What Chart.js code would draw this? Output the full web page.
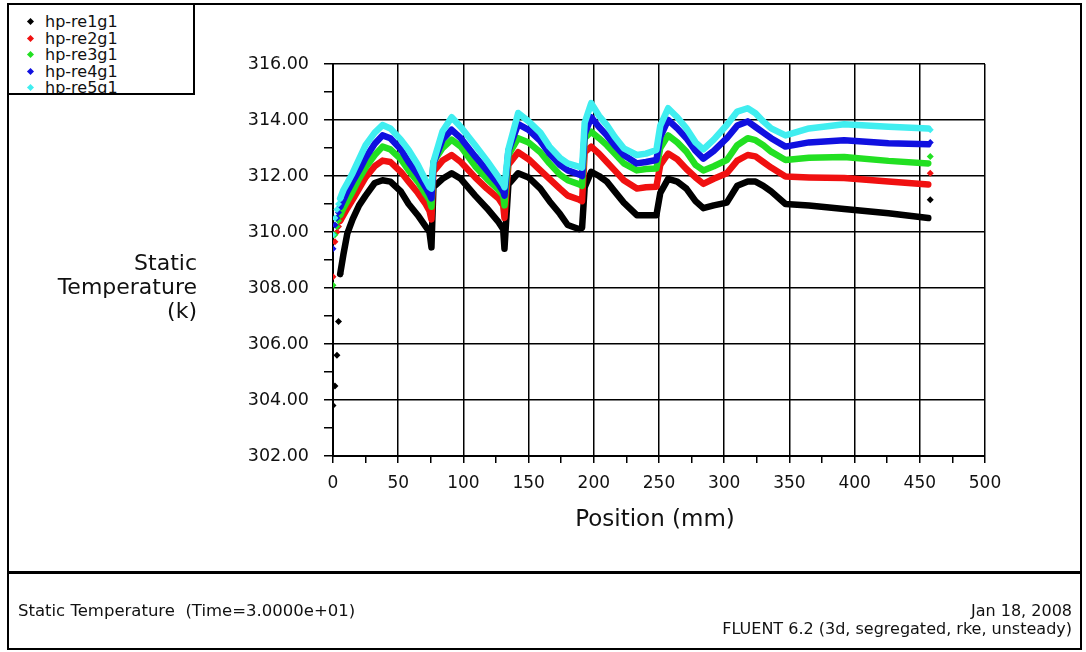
<!DOCTYPE html>
<html>
<head>
<meta charset="utf-8">
<title>Static Temperature</title>
<script src="https://cdn.jsdelivr.net/npm/chart.js@4.4.1/dist/chart.umd.min.js"></script>
<style>
  body { margin: 0; background: #fff; font-family: 'DejaVu Sans', sans-serif; color: #111; }
  #page { position: relative; width: 1086px; height: 652px; overflow: hidden; }
  #plot { position: absolute; left: 0; top: 0; }
  .panel { position: absolute; border: 2px solid #000; box-sizing: border-box; }
  #legend { position: absolute; left: 7px; top: 3px; width: 188px; height: 92px; border: 2px solid #000;
            box-sizing: border-box; background: #fff; overflow: hidden; }
  .item { position: absolute; left: 0; height: 16px; line-height: 16px; font-size: 16px; white-space: nowrap; }
  .item i { position: absolute; left: 19px; top: 5px; width: 5px; height: 5px; transform: rotate(45deg); }
  .item span { position: absolute; left: 36px; top: 0; }
  #ytitle { position: absolute; right: 889px; top: 251px; font-size: 22px; line-height: 24px; text-align: right; }
  #xtitle { position: absolute; left: 455px; width: 400px; top: 505px; font-size: 23px; line-height: 26px; text-align: center; }
  .foot { position: absolute; line-height: 18px; white-space: pre; }
</style>
</head>
<body>
<div id="page">
  <canvas id="plot" width="1086" height="652"></canvas>
  <div class="panel" style="left:7px; top:3px; width:1075px; height:570px;"></div>
  <div class="panel" style="left:7px; top:572px; width:1075px; height:78px;"></div>
  <div id="legend"></div>
  <div id="ytitle">Static<br>Temperature<br>(k)</div>
  <div id="xtitle">Position (mm)</div>
  <div class="foot" style="left:18px; top:602px; font-size:16.5px;">Static Temperature  (Time=3.0000e+01)</div>
  <div class="foot" style="right:14px; top:602px; text-align:right; font-size:16px;">Jan 18, 2008<br>FLUENT 6.2 (3d, segregated, rke, unsteady)</div>
</div>

<script>
// ── Data ───────────────────────────────────────────────────

const positions = [
  0, 1.5, 3, 4.2, 5.5,  8, 11, 15, 20, 25,  32, 38, 44, 52, 58,  65, 71, 74, 75.5, 77,
  84, 91, 98, 109, 118,  127, 130.5, 131.5, 134.5, 142,  150, 159, 166, 174, 180,
  189, 191, 193, 198, 204,  210, 216, 223, 233, 240,  248, 251, 257, 264, 271,
  278, 284, 292, 302, 310,  318, 324, 330, 336, 347,  365, 392, 426, 456.5, 458
];

const re1g1 = [
  303.8, 304.5, 305.6, 306.8, 308.5,  309.2, 309.95, 310.45, 310.95, 311.3,
  311.75, 311.85, 311.8, 311.45, 311.0,  310.6, 310.2, 310.0, 309.45, 311.6,
  311.9, 312.1, 311.9, 311.3, 310.85,  310.35, 310.1, 309.4, 311.7, 312.1,
  311.95, 311.55, 311.1, 310.65, 310.25,  310.1, 310.15, 311.6, 312.15, 312.0,
  311.8, 311.45, 311.05, 310.6, 310.6,  310.6, 311.4, 311.9, 311.8, 311.55,
  311.1, 310.85, 310.95, 311.05, 311.65,  311.8, 311.8, 311.65, 311.45, 311.0,
  310.95, 310.82, 310.67, 310.5, 311.15
];
const re2g1 = [
  308.4, 309.65, 310.0, 310.2, 310.4,  310.6, 310.85, 311.15, 311.55, 311.95,
  312.35, 312.55, 312.5, 312.15, 311.8,  311.4, 311.0, 310.75, 310.45, 312.15,
  312.55, 312.75, 312.5, 311.95, 311.55,  311.2, 310.95, 310.5, 312.4, 312.85,
  312.6, 312.2, 311.9, 311.55, 311.3,  311.15, 311.1, 312.85, 313.05, 312.8,
  312.5, 312.2, 311.85, 311.55, 311.6,  311.62, 312.4, 312.8, 312.6, 312.25,
  311.95, 311.72, 311.9, 312.1, 312.55,  312.75, 312.7, 312.5, 312.3, 311.98,
  311.95, 311.93, 311.8, 311.7, 312.1
];
const re3g1 = [
  308.1, 309.9, 310.2, 310.4, 310.6,  310.85, 311.1, 311.45, 311.9, 312.3,
  312.75, 313.05, 312.95, 312.6, 312.2,  311.8, 311.35, 311.15, 310.9, 312.5,
  313.0, 313.3, 313.05, 312.35, 311.9,  311.5, 311.3, 310.95, 312.75, 313.35,
  313.2, 312.85, 312.45, 312.05, 311.85,  311.7, 311.65, 313.35, 313.58, 313.35,
  313.1, 312.8, 312.45, 312.2, 312.25,  312.27, 313.0, 313.45, 313.2, 312.87,
  312.4, 312.2, 312.35, 312.57, 313.1,  313.35, 313.28, 313.1, 312.87, 312.57,
  312.65, 312.68, 312.54, 312.45, 312.7
];
const re4g1 = [
  309.4, 310.25, 310.5, 310.7, 310.9,  311.15, 311.45, 311.8, 312.2, 312.65,
  313.15, 313.45, 313.35, 312.95, 312.5,  312.05, 311.6, 311.35, 311.2, 312.45,
  313.3, 313.65, 313.35, 312.7, 312.2,  311.7, 311.45, 311.3, 312.9, 313.85,
  313.65, 313.25, 312.8, 312.4, 312.2,  312.05, 312.0, 313.5, 314.1, 313.75,
  313.45, 313.1, 312.75, 312.45, 312.5,  312.57, 313.4, 314.0, 313.7, 313.35,
  312.9, 312.62, 312.9, 313.35, 313.8,  313.95, 313.75, 313.55, 313.35, 313.05,
  313.2, 313.28, 313.17, 313.13, 313.2
];
const re5g1 = [
  309.9, 310.5, 310.8, 311.0, 311.2,  311.5, 311.75, 312.1, 312.6, 313.1,
  313.55, 313.82, 313.7, 313.3, 312.93,  312.4, 311.85, 311.6, 311.55, 312.5,
  313.6, 314.1, 313.75, 313.1, 312.55,  311.95, 311.7, 311.6, 312.95, 314.25,
  313.95, 313.55, 313.05, 312.65, 312.45,  312.33, 312.3, 313.9, 314.6, 314.15,
  313.82, 313.4, 312.99, 312.75, 312.8,  312.93, 313.8, 314.42, 314.1, 313.7,
  313.2, 312.95, 313.3, 313.82, 314.3,  314.42, 314.24, 313.95, 313.7, 313.45,
  313.7, 313.85, 313.76, 313.7, 313.65
];

const seriesNames = ['hp-re1g1', 'hp-re2g1', 'hp-re3g1', 'hp-re4g1', 'hp-re5g1'];
const seriesValues = [re1g1, re2g1, re3g1, re4g1, re5g1];
const seriesColors = ['#000000', '#f01010', '#22e022', '#1010e0', '#40eef0'];

const FONT = "'DejaVu Sans', sans-serif";
const SPARSE_TO = 5.5;   // near the inlet the solver points are scattered, draw them as markers only
const LINE_W = 6.5;

// ── Legend box (top-left, clipped like the original) ───────

function buildLegend() {
  const box = document.getElementById('legend');
  seriesNames.forEach((name, i) => {
    const row = document.createElement('div');
    row.className = 'item';
    row.style.top = (9 + i * 16.5) + 'px';
    row.innerHTML = `<i style="background:${seriesColors[i]}"></i><span>${name}</span>`;
    box.appendChild(row);
  });
}

// ── Chart ──────────────────────────────────────────────────

function buildDatasets() {
  const last = positions.length - 1;
  return seriesNames.map((name, i) => ({
    label: name,
    data: positions.map((x, k) => ({ x, y: seriesValues[i][k] })),
    borderColor: seriesColors[i],
    backgroundColor: seriesColors[i],
    borderWidth: LINE_W,
    borderJoinStyle: 'round',
    borderCapStyle: 'round',
    pointStyle: 'rectRot',
    pointBorderWidth: 0,
    pointRadius: ctx => {
      const r = ctx.raw;
      if (!r) return 0;
      return (r.x <= SPARSE_TO || ctx.dataIndex === last) ? 3.5 : 0;
    },
    segment: {
      borderColor: ctx => (ctx.p1.parsed.x <= SPARSE_TO || ctx.p1DataIndex === last) ? 'rgba(0,0,0,0)' : undefined
    }
  })).reverse();
}

function renderPlot() {
  new Chart(document.getElementById('plot'), {
    type: 'line',
    data: { datasets: buildDatasets() },
    options: {
      responsive: false,
      animation: false,
      events: [],
      layout: { padding: { left: 200, top: 64, right: 101, bottom: 156 } },
      plugins: { legend: { display: false }, tooltip: { enabled: false } },
      scales: {
        x: {
          type: 'linear', min: 0, max: 500,
          afterFit: s => { s.height = 40; },
          ticks: {
            stepSize: 25, autoSkip: false, maxRotation: 0, padding: 10,
            color: '#111', font: { family: FONT, size: 17 },
            callback: v => v % 50 === 0 ? String(v) : ''
          },
          grid: {
            color: ctx => ctx.tick && ctx.tick.value % 50 === 0 ? '#000' : 'rgba(0,0,0,0)',
            lineWidth: 1.5, tickColor: '#000', tickLength: 7, tickWidth: 1.5
          },
          border: { color: '#000', width: 2 }
        },
        y: {
          min: 302, max: 316,
          afterFit: s => { s.width = 133; },
          ticks: {
            stepSize: 1, autoSkip: false, padding: 15,
            color: '#111', font: { family: FONT, size: 17.5 },
            callback: v => v % 2 === 0 ? v.toFixed(2) : ''
          },
          grid: {
            color: ctx => ctx.tick && ctx.tick.value % 2 === 0 ? '#000' : 'rgba(0,0,0,0)',
            lineWidth: 1.5, tickColor: '#000', tickLength: 9, tickWidth: 1.5
          },
          border: { color: '#000', width: 2 }
        }
      }
    }
  });
}

buildLegend();
renderPlot();
</script>
</body>
</html>
